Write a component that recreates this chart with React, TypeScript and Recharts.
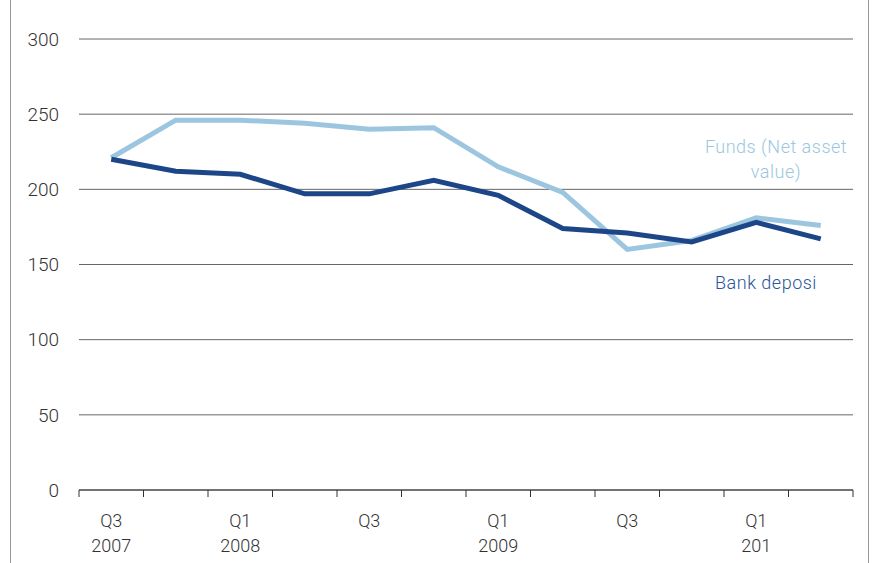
import React from 'react';
import { LineChart, Line, XAxis, YAxis, CartesianGrid } from 'recharts';

const quarters = ['Q3 2007', 'Q4 2007', 'Q1 2008', 'Q2 2008', 'Q3 2008', 'Q4 2008', 'Q1 2009', 'Q2 2009', 'Q3 2009', 'Q4 2009', 'Q1 2010', 'Q2 2010'];
const bankDeposits = [220, 212, 210, 197, 197, 206, 196, 174, 171, 165, 178, 167];
const funds = [221, 246, 246, 244, 240, 241, 215, 198, 160, 166, 181, 176];

// labels shown under every other quarter (as printed)
const tickLabels: Record<number, string[]> = {
  0: ['Q3', '2007'],
  2: ['Q1', '2008'],
  4: ['Q3'],
  6: ['Q1', '2009'],
  8: ['Q3'],
  10: ['Q1', '201'],
};
const yTicks = [0, 50, 100, 150, 200, 250, 300];

const data = quarters.map((q, i) => ({ idx: i, quarter: q, bank: bankDeposits[i], funds: funds[i] }));
const boundaryTicks = quarters.map((_, i) => i - 0.5).concat([quarters.length - 0.5]);
const labelTicks = Object.keys(tickLabels).map(Number);

const FONT = 'Roboto, "DejaVu Sans", sans-serif';
const DARK = '#1d4689';
const LIGHT = '#9cc6df';

const QuarterTick = (props: any) => {
  const { x, y, payload } = props;
  const lines = tickLabels[payload.value] || [];
  return (
    <text x={x} y={y} textAnchor="middle" fontFamily={FONT} fontSize={18} fontWeight={300} fill="#333">
      {lines.map((l, i) => (
        <tspan key={i} x={x} dy={i === 0 ? 34 : 25}>{l}</tspan>
      ))}
    </text>
  );
};

// boundary axis: only the small tick line, no label
const MarkTick = (props: any) => {
  const { x, y } = props;
  return <line x1={x} x2={x} y1={y} y2={y + 7} stroke="#333" strokeWidth={1} />;
};

const App = () => {
  return (
    <div style={{ position: 'absolute', left: 0, top: 0, width: 874, height: 563, background: '#fff' }}>
      <div style={{ position: 'absolute', left: 10, top: 0, width: 857, height: 563, borderLeft: '1px solid #999', borderRight: '1px solid #999' }} />
      <LineChart width={874} height={563} data={data} margin={{ top: 39, right: 21, left: 0, bottom: 0 }}>
        <CartesianGrid vertical={false} stroke="#666" strokeWidth={1} xAxisId="a" />
        <XAxis
          xAxisId="a"
          dataKey="idx"
          type="number"
          domain={[-0.5, quarters.length - 0.5]}
          ticks={boundaryTicks}
          tick={<MarkTick />}
          tickSize={0}
          tickMargin={0}
          tickLine={false}
          height={1}
          interval={0}
          axisLine={{ stroke: '#333' }}
        />
        <XAxis
          xAxisId="b"
          dataKey="idx"
          type="number"
          domain={[-0.5, quarters.length - 0.5]}
          ticks={labelTicks}
          tick={<QuarterTick />}
          tickLine={false}
          axisLine={false}
          tickSize={0}
          height={72}
          interval={0}
        />
        <YAxis
          domain={[0, 300]}
          ticks={yTicks}
          width={79}
          tickSize={0}
          tickMargin={20}
          axisLine={false}
          tickLine={false}
          tick={{ fontFamily: FONT, fontSize: 19, fontWeight: 300, fill: '#333' }}
        />
        <Line xAxisId="a" dataKey="funds" stroke={LIGHT} strokeWidth={5} dot={false} isAnimationActive={false} />
        <Line xAxisId="a" dataKey="bank" stroke={DARK} strokeWidth={5} dot={false} isAnimationActive={false} />
      </LineChart>
      <div style={{ position: 'absolute', left: 676, top: 134, width: 200, textAlign: 'center', fontFamily: FONT, fontSize: 18, fontWeight: 300, lineHeight: '25px', color: LIGHT, letterSpacing: 0.5 }}>
        Funds (Net asset<br />value)
      </div>
      <div style={{ position: 'absolute', left: 666, top: 270, width: 200, textAlign: 'center', fontFamily: FONT, fontSize: 18, fontWeight: 300, lineHeight: '25px', color: '#2a5599', letterSpacing: 0.5 }}>
        Bank deposi
      </div>
    </div>
  );
};

export default App;
